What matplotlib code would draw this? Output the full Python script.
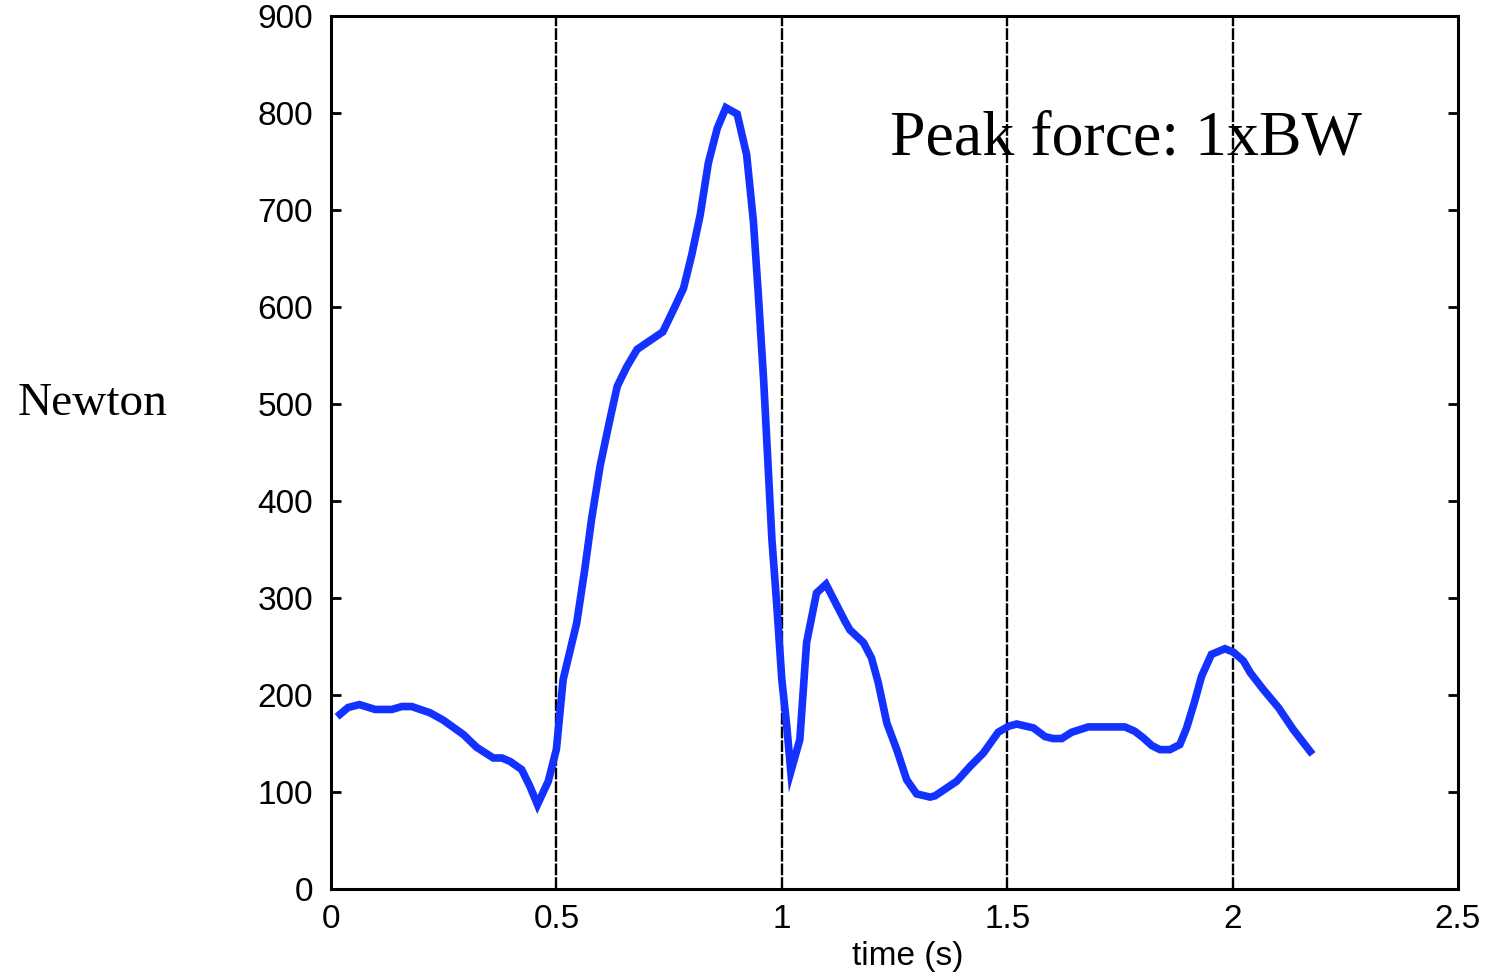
import matplotlib
matplotlib.use("Agg")
import matplotlib.pyplot as plt

# Data
time_s = [0.02, 0.038, 0.063, 0.098, 0.135, 0.157, 0.179, 0.22, 0.249, 0.294, 0.323, 0.36, 0.379,
          0.397, 0.423, 0.441, 0.458, 0.482, 0.5, 0.515, 0.545, 0.563, 0.578, 0.597, 0.619, 0.635,
          0.656, 0.679, 0.736, 0.763, 0.782, 0.80, 0.819, 0.837, 0.857, 0.876, 0.901, 0.922, 0.937,
          0.948, 0.96, 0.978, 0.989, 1.0, 1.011, 1.02, 1.04, 1.055, 1.077, 1.098, 1.14, 1.151,
          1.181, 1.199, 1.214, 1.233, 1.255, 1.277, 1.299, 1.329, 1.34, 1.388, 1.417, 1.447, 1.48,
          1.503, 1.521, 1.558, 1.584, 1.602, 1.621, 1.643, 1.68, 1.761, 1.783, 1.802, 1.821, 1.839,
          1.861, 1.883, 1.898, 1.916, 1.931, 1.953, 1.983, 2.002, 2.024, 2.039, 2.068, 2.102, 2.135,
          2.172]
force_N = [180, 187, 190, 185, 185, 188, 188, 181.5, 174, 159, 146, 135, 135,
           131.5, 123, 106, 87, 111, 144, 216, 274, 329.5, 381, 436, 484.5, 518,
           538, 556, 574, 600, 619, 653, 694.5, 748, 784, 805, 798.5, 756.5, 688,
           612, 522, 360.5, 291.6, 216, 167.7, 121, 154, 254, 305, 314, 276, 267,
           254, 238, 212.5, 171, 143.6, 112.6, 98, 94.7, 96, 111, 126, 140, 161.5,
           167.7, 170, 166, 157, 155, 155, 161.5, 167, 167, 162.5, 155.7, 147.7, 143.6,
           143.6, 148.8, 166, 193.5, 219, 241.7, 247.6, 244, 235, 223, 205.6, 186.7, 164,
           141.8]

x_ticks = [0, 0.5, 1, 1.5, 2, 2.5]
x_tick_labels = ["0", "0.5", "1", "1.5", "2", "2.5"]
y_ticks = [0, 100, 200, 300, 400, 500, 600, 700, 800, 900]
y_tick_labels = [str(v) for v in y_ticks]

plt.rcParams['font.family'] = ['Liberation Sans', 'DejaVu Sans']

fig = plt.figure(figsize=(14.99, 9.76), dpi=100)
ax = fig.add_axes([331/1499, 1 - 889/976, (1458 - 331)/1499, (889 - 15.5)/976])

# dashed vertical grid lines at x ticks
for xv in x_ticks[1:-1]:
    ax.axvline(xv, color='black', lw=1.7, dashes=(5, 0.8), zorder=1)

ax.plot(time_s, force_N, color='#1432ff', lw=5.5, solid_joinstyle='miter', zorder=3)

ax.set_xlim(0, 2.5)
ax.set_ylim(0, 900)
ax.set_xticks(x_ticks)
ax.set_xticklabels(x_tick_labels)
ax.set_yticks(y_ticks)
ax.set_yticklabels(y_tick_labels)
ax.tick_params(axis='x', length=0, pad=11, labelsize=24)
ax.tick_params(axis='y', direction='in', length=7, width=2, right=True, pad=13, labelsize=24)
for s in ax.spines.values():
    s.set_linewidth(2.2)

ax.set_xlabel("time (s)", fontsize=24)
ax.xaxis.set_label_coords((908 - 331) / (1458 - 331), -0.077)
ax.xaxis.label.set_va('center')

fig.text(18/1499, 1 - 415/976, "Newton", fontsize=34, family='Liberation Serif',
         ha='left', va='baseline')

ax.text(1.24, 757, "Peak force: 1xBW", fontsize=46, family='Liberation Serif',
        ha='left', va='baseline', zorder=4)

fig.savefig("out.png", dpi=100)
